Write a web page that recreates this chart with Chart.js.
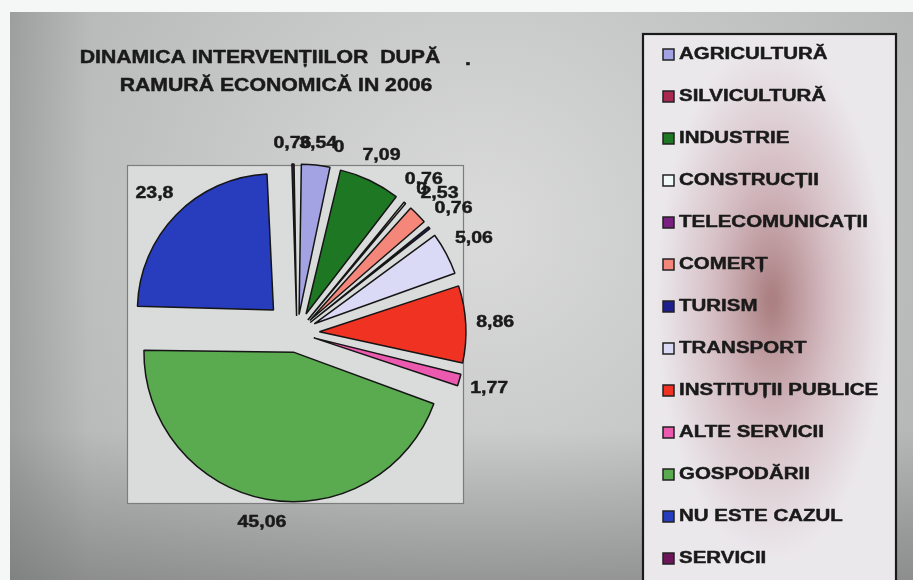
<!DOCTYPE html>
<html>
<head>
<meta charset="utf-8">
<script src="https://cdn.jsdelivr.net/npm/chart.js@4/dist/chart.umd.min.js"></script>
<style>
html,body{margin:0;padding:0;background:#b4b5b5;}
#wrap{width:913px;height:580px;position:relative;}
</style>
</head>
<body>
<div id="wrap"><canvas id="c" width="913" height="580"></canvas></div>
<script>
// ---- data ----
const categories = ['AGRICULTURĂ','SILVICULTURĂ','INDUSTRIE','CONSTRUCȚII','TELECOMUNICAȚII','COMERȚ','TURISM','TRANSPORT','INSTITUȚII PUBLICE','ALTE SERVICII','GOSPODĂRII','NU ESTE CAZUL','SERVICII'];
const values = [3.54, 0, 7.09, 0.76, 0, 2.53, 0.76, 5.06, 8.86, 1.77, 45.06, 23.8, 0.76];
const sliceColors = ['#a3a3e4','#a82850','#1e7823','#f0f8f8','#7a2080','#f5867a','#1e1e8c','#dadaf6','#f03223','#eb5aaf','#5aaa50','#283cbe','#6e145a'];
const titleLines = ['DINAMICA INTERVENȚIILOR  DUPĂ', 'RAMURĂ ECONOMICĂ IN 2006'];

// ---- styling constants ----
const FONT = '"Liberation Sans", Arial, sans-serif';
const EXPLODE = 33;      // uniform pixel displacement of every slice
const RADIUS = 136;
const TEXT = '#1a1a1a';

function wideText(ctx, text, x, y, size, sx, align) {
  ctx.save();
  ctx.font = 'bold ' + size + 'px ' + FONT;
  ctx.textBaseline = 'middle';
  ctx.textAlign = align;
  ctx.fillStyle = TEXT;
  ctx.strokeStyle = TEXT;
  ctx.lineWidth = 0.45;
  ctx.lineJoin = 'round';
  ctx.translate(x, y);
  ctx.scale(sx, 1);
  ctx.fillText(text, 0, 0);
  ctx.strokeText(text, 0, 0);
  ctx.restore();
}

const backgroundPlugin = {
  id: 'bg',
  beforeDraw(chart) {
    const ctx = chart.ctx;
    const W = chart.width, H = chart.height;
    ctx.save();
    ctx.fillStyle = '#b3b4b4';
    ctx.fillRect(0, 0, W, H);
    let g = ctx.createRadialGradient(480, 230, 20, 480, 230, 520);
    g.addColorStop(0, 'rgba(230,230,230,0.75)');
    g.addColorStop(1, 'rgba(230,230,230,0)');
    ctx.fillStyle = g;
    ctx.fillRect(0, 0, W, H);
    g = ctx.createLinearGradient(0, 430, 0, H);
    g.addColorStop(0, 'rgba(70,70,70,0)');
    g.addColorStop(1, 'rgba(70,70,70,0.35)');
    ctx.fillStyle = g;
    ctx.fillRect(0, 430, W, H - 430);
    g = ctx.createLinearGradient(10, 0, 90, 0);
    g.addColorStop(0, 'rgba(90,95,95,0.25)');
    g.addColorStop(1, 'rgba(90,95,95,0)');
    ctx.fillStyle = g;
    ctx.fillRect(10, 0, 80, H);
    // scan borders
    ctx.fillStyle = '#f5f6f6';
    ctx.fillRect(0, 0, W, 12);
    ctx.fillRect(0, 0, 10, H);

    // plot area
    ctx.fillStyle = '#dadbdb';
    ctx.fillRect(127, 165, 336, 338);
    ctx.strokeStyle = '#7d7d7d';
    ctx.lineWidth = 1.2;
    ctx.strokeRect(127.5, 165.5, 336, 338);

    // legend box
    const lx = 643, ly = 34, lw = 253, lh = 560;
    ctx.fillStyle = '#ebe8ec';
    ctx.fillRect(lx, ly, lw, lh);
    ctx.save();
    ctx.beginPath();
    ctx.rect(lx, ly, lw, lh);
    ctx.clip();
    ctx.translate(772, 300);
    ctx.scale(0.45, 1);
    g = ctx.createRadialGradient(0, 0, 10, 0, 0, 260);
    g.addColorStop(0, 'rgba(120,45,45,0.55)');
    g.addColorStop(0.5, 'rgba(150,70,80,0.25)');
    g.addColorStop(1, 'rgba(160,90,100,0)');
    ctx.fillStyle = g;
    ctx.fillRect(-600, -300, 1200, 600);
    ctx.restore();
    ctx.strokeStyle = '#1a1a1a';
    ctx.lineWidth = 2.2;
    ctx.strokeRect(lx, ly, lw, lh);
    ctx.restore();
  },
  afterDraw(chart) {
    const ctx = chart.ctx;
    // title
    wideText(ctx, titleLines[0], 260, 58, 18, 1.18, 'center');
    wideText(ctx, titleLines[1], 276, 86, 18, 1.18, 'center');
    wideText(ctx, '.', 468, 60, 18, 1.18, 'center');
    // legend
    const ds = chart.data.datasets[0];
    chart.data.labels.forEach((lab, i) => {
      const cy = 55 + i * 42;
      ctx.save();
      ctx.fillStyle = ds.backgroundColor[i];
      ctx.fillRect(663, cy - 6, 11, 11);
      ctx.strokeStyle = '#222';
      ctx.lineWidth = 1.5;
      ctx.strokeRect(663, cy - 6, 11, 11);
      ctx.restore();
      wideText(ctx, lab, 679, cy, 16, 1.28, 'left');
    });
  }
};

const labelPlugin = {
  id: 'sliceLabels',
  afterDatasetsDraw(chart) {
    const ctx = chart.ctx;
    const meta = chart.getDatasetMeta(0);
    const SX = 1.22, SIZE = 16;
    meta.data.forEach((arc, i) => {
      const p = arc.getProps(['x', 'y', 'startAngle', 'endAngle', 'outerRadius'], true);
      const a = (p.startAngle + p.endAngle) / 2;
      const txt = String(chart.data.datasets[0].data[i]).replace('.', ',');
      ctx.font = 'bold ' + SIZE + 'px ' + FONT;
      const hw = ctx.measureText(txt).width * SX / 2;
      const hh = 10;
      const d = p.outerRadius + EXPLODE + 10 + Math.abs(Math.cos(a)) * hw + Math.abs(Math.sin(a)) * hh;
      wideText(ctx, txt, p.x + Math.cos(a) * d, p.y + Math.sin(a) * d, SIZE, SX, 'center');
    });
  }
};

new Chart(document.getElementById('c'), {
  type: 'pie',
  data: {
    labels: categories,
    datasets: [{
      data: values,
      backgroundColor: sliceColors,
      borderColor: '#151515',
      borderWidth: 1.5,
      offset: (c) => {
        const data = c.dataset.data;
        const total = data.reduce((s, v) => s + v, 0);
        const circ = (data[c.dataIndex] / total) * Math.PI * 2;
        const fix = 1 - Math.sin(Math.min(Math.PI, circ));
        return 4 * EXPLODE / (1 + fix);
      }
    }]
  },
  options: {
    responsive: false,
    animation: false,
    radius: RADIUS,
    layout: { padding: { left: 0, right: 913 - 594, top: 86, bottom: 0 } },
    plugins: {
      legend: { display: false },
      title: { display: false },
      tooltip: { enabled: false }
    }
  },
  plugins: [backgroundPlugin, labelPlugin]
});
</script>
</body>
</html>
